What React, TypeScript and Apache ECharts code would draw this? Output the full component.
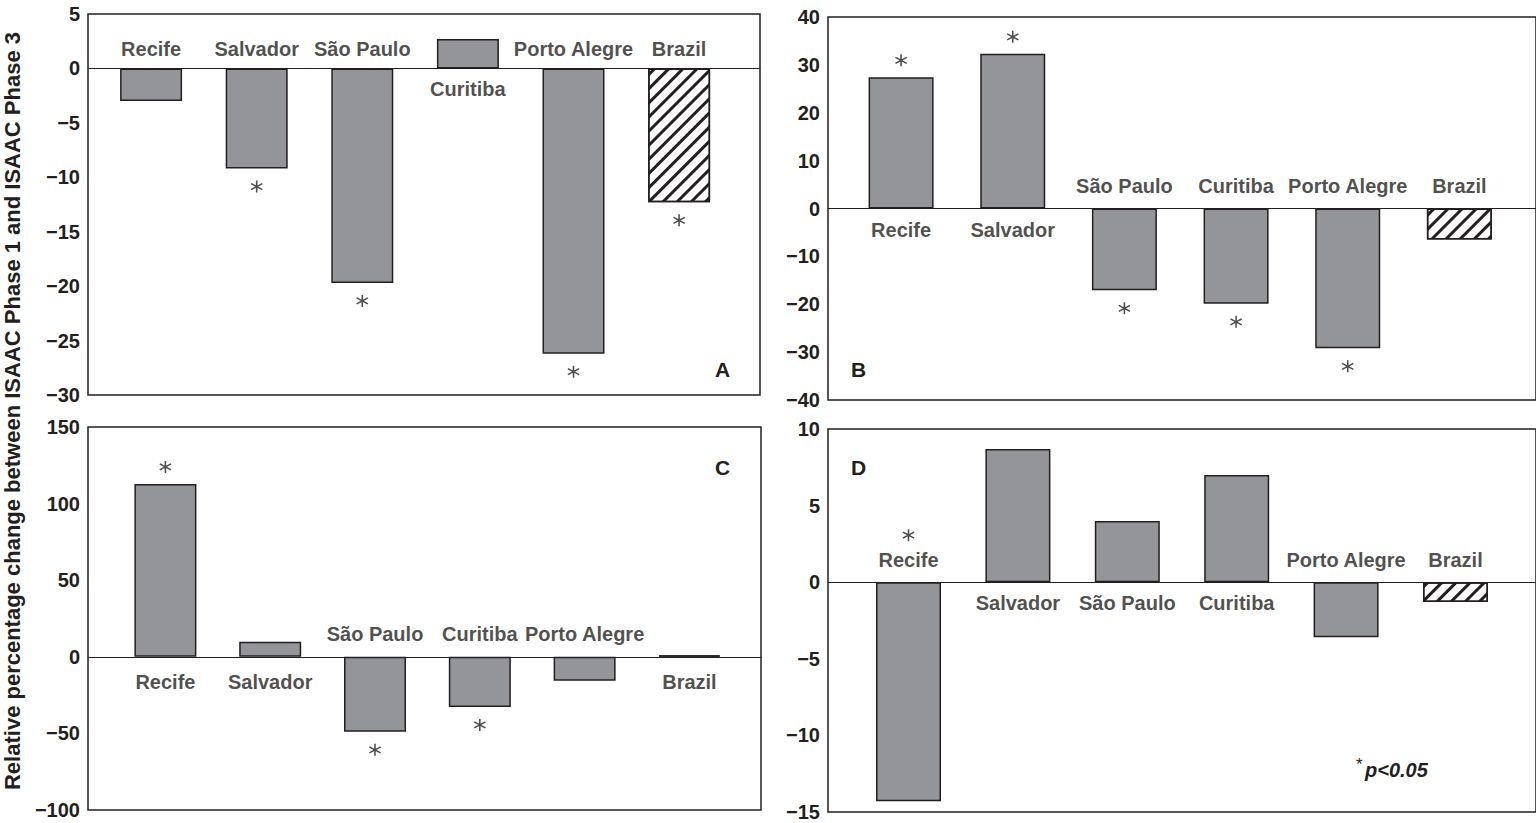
import React, { useEffect, useRef } from "react";
import * as echarts from "echarts";

// ---------------- data ----------------
const categories = ["Recife", "Salvador", "São Paulo", "Curitiba", "Porto Alegre", "Brazil"];

const valuesA = [-3.0, -9.2, -19.7, 2.7, -26.2, -12.3];
const valuesB = [27.4, 32.3, -17.1, -19.9, -29.2, -6.5];
const valuesC = [112.8, 9.8, -49.0, -32.7, -15.7, 0.9];
const valuesD = [-14.3, 8.7, 4.0, 7.0, -3.6, -1.3];

// significance: 0 = none, 1 = asterisk at the bar end, 2 = asterisk above the category label
const sigA = [0, 1, 1, 0, 1, 1];
const sigB = [1, 1, 1, 1, 1, 0];
const sigC = [1, 0, 1, 1, 0, 0];
const sigD = [2, 0, 0, 0, 0, 0];

// y axis ranges: [min, max, interval]
const ticksA = [-30, 5, 5];
const ticksB = [-40, 40, 10];
const ticksC = [-100, 150, 50];
const ticksD = [-15, 10, 5];

const panelLetters = ["A", "B", "C", "D"];
const yTitle = "Relative percentage change between ISAAC Phase 1 and ISAAC Phase 3";
const noteStar = "*";
const noteText = "p<0.05";

// ---------------- styles / layout ----------------
const INK = "#231f20";
const GRAY = "#939598";
const FONT = "'Liberation Sans', Arial, Helvetica, sans-serif";

const STAR_PATH =
  "path://M44 0 L56 0 L56 100 L44 100 Z M96.3 69.8 L90.3 80.2 L3.7 30.2 L9.7 19.8 Z M90.3 19.8 L96.3 30.2 L9.7 80.2 L3.7 69.8 Z";

const panels = [
  { values: valuesA, sig: sigA, ticks: ticksA, grid: { left: 88, top: 14, width: 672, height: 381 }, x: [-0.5975, 5.766], barWidth: 62, up: 9, down: 10 },
  { values: valuesB, sig: sigB, ticks: ticksB, grid: { left: 828, top: 17, width: 712, height: 383 }, x: [-0.6545, 5.686], barWidth: 65, up: 12, down: 11 },
  { values: valuesC, sig: sigC, ticks: ticksC, grid: { left: 88, top: 427, width: 673, height: 383 }, x: [-0.7385, 5.683], barWidth: 62, up: 12, down: 15 },
  { values: valuesD, sig: sigD, ticks: ticksD, grid: { left: 828, top: 429, width: 712, height: 383 }, x: [-0.736, 5.736], barWidth: 65, up: 12, down: 10 },
];

function buildOption() {
  const grid: any[] = [];
  const xAxis: any[] = [];
  const yAxis: any[] = [];
  const series: any[] = [];

  panels.forEach((p, k) => {
    grid.push({ ...p.grid, show: true, borderColor: INK, borderWidth: 1.5, backgroundColor: "transparent" });
    xAxis.push({
      type: "value",
      gridIndex: k,
      min: p.x[0],
      max: p.x[1],
      axisLabel: { show: false },
      axisTick: { show: false },
      splitLine: { show: false },
      axisLine: { show: true, onZero: true, lineStyle: { color: INK, width: 1 } },
    });
    yAxis.push({
      type: "value",
      gridIndex: k,
      min: p.ticks[0],
      max: p.ticks[1],
      interval: p.ticks[2],
      axisLine: { show: false },
      axisTick: { show: false },
      splitLine: { show: false },
      axisLabel: {
        color: INK,
        fontSize: 20,
        fontWeight: "bold",
        fontFamily: FONT,
        margin: 8,
        formatter: (v: number) => String(v).replace("-", "\u2212"),
      },
    });

    series.push({
      type: "bar",
      xAxisIndex: k,
      yAxisIndex: k,
      barWidth: p.barWidth,
      data: p.values.map((v, i) => ({
        value: [i, v],
        itemStyle:
          categories[i] === "Brazil"
            ? {
                color: "#ffffff",
                borderColor: INK,
                borderWidth: 1.5,
                decal: {
                  symbol: "rect",
                  symbolSize: 1,
                  dashArrayX: [1, 0],
                  dashArrayY: [2.5, 6.5],
                  rotation: -Math.PI / 4,
                  color: INK,
                  backgroundColor: "#ffffff",
                },
              }
            : { color: GRAY, borderColor: INK, borderWidth: 1.5 },
      })),
    });

    series.push({
      type: "scatter",
      xAxisIndex: k,
      yAxisIndex: k,
      symbolSize: 1,
      itemStyle: { color: "rgba(0,0,0,0)" },
      data: p.values.map((v, i) => ({
        value: [i, 0],
        label: {
          show: true,
          position: v < 0 ? "top" : "bottom",
          distance: v < 0 ? p.up : p.down,
          formatter: categories[i],
          color: INK,
          fontSize: 20,
          fontWeight: "bold",
          fontFamily: FONT,
        },
      })),
    });

    series.push({
      type: "scatter",
      xAxisIndex: k,
      yAxisIndex: k,
      symbol: STAR_PATH,
      symbolSize: [12, 12],
      itemStyle: { color: INK },
      data: p.values
        .map((v, i) => ({ v, i, s: p.sig[i] }))
        .filter((d) => d.s > 0)
        .map((d) => ({
          value: [d.i, d.s === 1 ? d.v : 0],
          symbolOffset: d.s === 1 ? [0, d.v < 0 ? 18 : -17] : [0, -47],
        })),
    });
  });

  const letterPos = [
    [715, 369],
    [851, 369],
    [715, 467],
    [851, 467],
  ];

  const graphic: any[] = [
    {
      type: "text",
      x: 12,
      y: 411,
      rotation: Math.PI / 2,
      style: {
        text: yTitle,
        fill: INK,
        font: `bold 22px ${FONT}`,
        textAlign: "center",
        textVerticalAlign: "middle",
      },
    },
    ...panelLetters.map((t, i) => ({
      type: "text",
      x: letterPos[i][0],
      y: letterPos[i][1],
      style: { text: t, fill: INK, font: `bold 21px ${FONT}`, textAlign: "left", textVerticalAlign: "middle" },
    })),
    {
      type: "text",
      x: 1356,
      y: 764,
      style: { text: noteStar, fill: INK, font: `17px ${FONT}`, textAlign: "left", textVerticalAlign: "middle" },
    },
    {
      type: "text",
      x: 1365,
      y: 770,
      style: { text: noteText, fill: INK, font: `italic bold 20px ${FONT}`, textAlign: "left", textVerticalAlign: "middle" },
    },
  ];

  return {
    animation: false,
    backgroundColor: "#ffffff",
    grid,
    xAxis,
    yAxis,
    series,
    graphic,
  };
}

export default function App() {
  const ref = useRef<HTMLDivElement>(null);
  useEffect(() => {
    if (!ref.current) return;
    const chart = echarts.init(ref.current, null, { renderer: "svg" });
    chart.setOption(buildOption() as any);
    return () => chart.dispose();
  }, []);
  return (
    <div
      ref={ref}
      style={{ position: "absolute", left: 0, top: 0, width: 1536, height: 823, background: "#fff" }}
    />
  );
}
